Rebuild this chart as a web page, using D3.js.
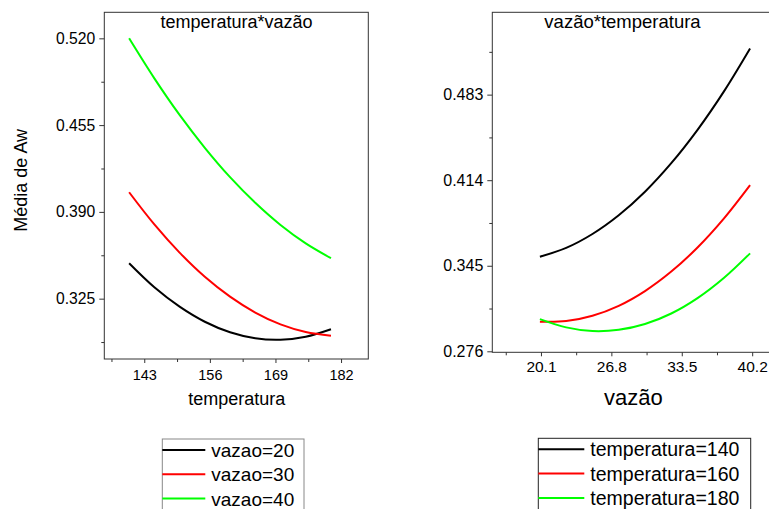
<!DOCTYPE html>
<html>
<head>
<meta charset="utf-8">
<script src="https://cdn.jsdelivr.net/npm/d3@7"></script>
<style>
  body { margin: 0; background: #fff; }
  svg { display: block; font-family: "Liberation Sans", Arial, sans-serif; }
</style>
</head>
<body>
<svg width="769" height="509"></svg>
<script>
// left panel: Aw vs temperatura, one line per vazao
const temps = [140, 145, 150, 155, 160, 165, 170, 175, 180];
const vazao20 = [0.3515, 0.3335, 0.319, 0.3077, 0.2998, 0.2953, 0.2942, 0.2965, 0.3021];
const vazao30 = [0.4047, 0.3806, 0.3595, 0.3414, 0.3265, 0.3146, 0.3057, 0.3000, 0.2973];
const vazao40 = [0.520, 0.490, 0.4626, 0.438, 0.416, 0.3968, 0.3802, 0.3664, 0.3553];

// right panel: Aw vs vazao, one line per temperatura
const vazoes = [20, 22.5, 25, 27.5, 30, 32.5, 35, 37.5, 40];
const temp140 = [0.3523, 0.3594, 0.3706, 0.3857, 0.4047, 0.4277, 0.4546, 0.4854, 0.5202];
const temp160 = [0.2999, 0.3004, 0.3047, 0.3127, 0.3246, 0.3403, 0.3597, 0.383, 0.410];
const temp180 = [0.302, 0.2953, 0.2923, 0.2933, 0.298, 0.3065, 0.3189, 0.3351, 0.355];

const leftXTicks = [143, 156, 169, 182];
const leftYTicks = [0.325, 0.390, 0.455, 0.520];
const rightXTicks = [20.1, 26.8, 33.5, 40.2];
const rightYTicks = [0.276, 0.345, 0.414, 0.483];

const leftNames = ["vazao=20", "vazao=30", "vazao=40"];
const rightNames = ["temperatura=140", "temperatura=160", "temperatura=180"];
const colors = ["#000000", "#ff0000", "#00ff00"];

const svg = d3.select("svg");

function minors(ticks) {
  const step = ticks[1] - ticks[0];
  const out = [];
  for (let i = -1; i < ticks.length; i++) out.push(ticks[0] + step * (i + 0.5));
  return out;
}

function panel(opt) {
  const g = svg.append("g");
  const x = d3.scaleLinear().domain(opt.xDomain).range(opt.xRange);
  const y = d3.scaleLinear().domain(opt.yDomain).range(opt.yRange);
  const [x0, x1] = opt.xRange, [y1, y0] = opt.yRange;

  // minor ticks
  g.append("g").attr("transform", `translate(${x0},0)`)
    .call(d3.axisLeft(y).tickValues(minors(opt.yTicks).filter(v => v > opt.yDomain[0] && v < opt.yDomain[1])).tickSize(3).tickFormat(""));
  g.append("g").attr("transform", `translate(0,${y1})`)
    .call(d3.axisBottom(x).tickValues(minors(opt.xTicks).filter(v => v > opt.xDomain[0] && v < opt.xDomain[1])).tickSize(3).tickFormat(""));

  // major ticks
  const ya = g.append("g").attr("transform", `translate(${x0},0)`)
    .call(d3.axisLeft(y).tickValues(opt.yTicks).tickSize(5).tickPadding(4).tickFormat(d3.format(".3f")));
  ya.selectAll("text").style("font-size", opt.yFont + "px").attr("fill", "#000");
  const xa = g.append("g").attr("transform", `translate(0,${y1})`)
    .call(d3.axisBottom(x).tickValues(opt.xTicks).tickSize(4).tickPadding(opt.xPad).tickFormat(opt.xFormat));
  xa.selectAll("text").style("font-size", opt.xFont + "px").attr("fill", "#000");
  g.selectAll(".domain").remove();
  g.selectAll(".tick line").attr("stroke", "#333");

  // frame
  g.append("rect")
    .attr("x", x0).attr("y", y0)
    .attr("width", x1 - x0).attr("height", y1 - y0)
    .attr("fill", "none").attr("stroke", "#333").attr("stroke-width", 1);

  const line = d3.line()
    .x((d, i) => x(opt.xs[i]))
    .y(d => y(d))
    .curve(d3.curveCatmullRom.alpha(0.5));

  opt.series.forEach((s, k) => {
    g.append("path")
      .datum(s)
      .attr("d", line)
      .attr("fill", "none")
      .attr("stroke", colors[k])
      .attr("stroke-width", 2);
  });

  g.append("text")
    .attr("x", opt.titleX).attr("y", 28)
    .attr("text-anchor", "middle")
    .style("font-size", opt.titleFont + "px")
    .text(opt.title);

  g.append("text")
    .attr("x", opt.xLabelX).attr("y", 405)
    .attr("text-anchor", "middle")
    .style("font-size", opt.xLabelFont + "px")
    .text(opt.xLabel);

  // legend
  const lg = svg.append("g");
  lg.append("rect")
    .attr("x", opt.legX).attr("y", opt.legY)
    .attr("width", opt.legW).attr("height", 90)
    .attr("fill", "#fff").attr("stroke", opt.legStroke).attr("stroke-width", 1);
  opt.names.forEach((n, k) => {
    const ly = opt.legY + 11 + k * 24.3;
    lg.append("line")
      .attr("x1", opt.legX).attr("x2", opt.legX + opt.legLine)
      .attr("y1", ly).attr("y2", ly)
      .attr("stroke", colors[k]).attr("stroke-width", 2);
    lg.append("text")
      .attr("x", opt.legX + opt.legLine + 6).attr("y", ly + 7)
      .style("font-size", opt.legFont + "px")
      .text(n);
  });
}

panel({
  xs: temps, series: [vazao20, vazao30, vazao40],
  xDomain: [135.08, 187.4], xRange: [104.3, 368.3],
  yDomain: [0.2798, 0.5395], yRange: [359, 12.3],
  xTicks: leftXTicks, yTicks: leftYTicks,
  xFormat: d3.format("d"), xFont: 14.5, yFont: 15.7, xPad: 7,
  title: "temperatura*vazão", titleX: 236.5, titleFont: 18,
  xLabel: "temperatura", xLabelX: 236.7, xLabelFont: 18,
  names: leftNames, legX: 162.3, legY: 439, legW: 141.7, legLine: 43, legFont: 19, legStroke: "#888"
});

panel({
  xs: vazoes, series: [temp140, temp160, temp180],
  xDomain: [15.47, 43], xRange: [492.3, 781.6],
  yDomain: [0.2752, 0.5494], yRange: [352.3, 12.3],
  xTicks: rightXTicks, yTicks: rightYTicks,
  xFormat: d3.format(".1f"), xFont: 15.5, yFont: 16, xPad: 5,
  title: "vazão*temperatura", titleX: 622.5, titleFont: 18.5,
  xLabel: "vazão", xLabelX: 633.3, xLabelFont: 22,
  names: rightNames, legX: 538.3, legY: 438.3, legW: 212.4, legLine: 46, legFont: 19.5, legStroke: "#222"
});

svg.append("text")
  .attr("transform", "translate(27,180.3) rotate(-90)")
  .attr("text-anchor", "middle")
  .style("font-size", "18px")
  .text("Média de Aw");
</script>
</body>
</html>
